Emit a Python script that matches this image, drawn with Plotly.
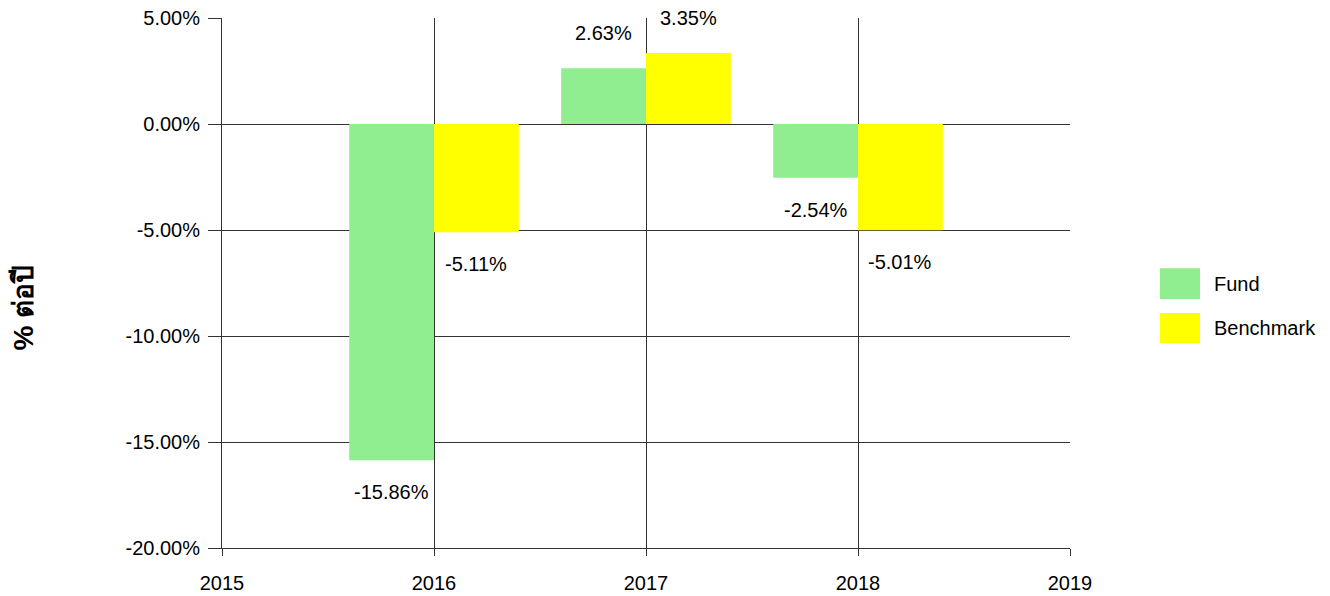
import plotly.graph_objects as go

years = [2016, 2017, 2018]
fund = [-15.86, 2.63, -2.54]
benchmark = [-5.11, 3.35, -5.01]
series_names = ["Fund", "Benchmark"]
colors = ["#90EE90", "#FFFF00"]
y_ticks = [5, 0, -5, -10, -15, -20]
x_ticks = [2015, 2016, 2017, 2018, 2019]
y_title = "% ต่อปี"

FONT = "Liberation Sans, Arial, sans-serif"
FS = 20

fig = go.Figure()
fig.add_trace(go.Bar(x=years, y=fund, name=series_names[0], marker_color=colors[0],
                     marker_line_width=0, width=0.4, offset=-0.4, showlegend=False))
fig.add_trace(go.Bar(x=years, y=benchmark, name=series_names[1], marker_color=colors[1],
                     marker_line_width=0, width=0.4, offset=0, showlegend=False))

annotations = []
for vals, off in ((fund, -0.2), (benchmark, 0.2)):
    for x, v in zip(years, vals):
        annotations.append(dict(x=x + off, y=v, xref="x", yref="y", text=f"{v:.2f}%",
                                showarrow=False, yanchor="middle",
                                yshift=35 if v > 0 else -32,
                                font=dict(family=FONT, size=FS, color="#000")))

# Y title
annotations.append(dict(x=-0.2339, y=0.453, xref="paper", yref="paper", text=f"<b>{y_title}</b>",
                        textangle=-90, showarrow=False, xanchor="center", yanchor="middle",
                        font=dict(family=FONT, size=28, color="#000")))

# Custom legend
shapes = []
leg_y = [(0.528, 0.4698), (0.4434, 0.3868)]
for name, col, (y1, y0) in zip(series_names, colors, leg_y):
    shapes.append(dict(type="rect", xref="paper", yref="paper", x0=1.106, x1=1.1533,
                       y0=y0, y1=y1, fillcolor=col, line_width=0))
    annotations.append(dict(x=1.1675, y=(y0 + y1) / 2, xref="paper", yref="paper", text=name,
                            showarrow=False, xanchor="left", yanchor="middle",
                            font=dict(family=FONT, size=FS, color="#000")))

fig.update_layout(
    width=1322, height=588,
    margin=dict(l=214, r=260, t=10, b=48, pad=0),
    paper_bgcolor="white", plot_bgcolor="white",
    barmode="overlay",
    showlegend=False,
    annotations=annotations,
    shapes=shapes,
    font=dict(family=FONT, size=FS, color="#000"),
)
fig.update_xaxes(range=[2015, 2019], tickvals=x_ticks, ticktext=[str(t) for t in x_ticks],
                 showgrid=True, gridcolor="#333", gridwidth=1,
                 showline=True, linecolor="#333", linewidth=1,
                 ticks="outside", ticklen=7, tickcolor="#333",
                 ticklabelstandoff=10, zeroline=False, automargin=False,
                 ticklabeloverflow="allow")
fig.update_yaxes(range=[-20, 5], tickvals=y_ticks, ticktext=[f"{t:.2f}%" for t in y_ticks],
                 showgrid=True, gridcolor="#333", gridwidth=1,
                 showline=True, linecolor="#333", linewidth=1,
                 ticks="outside", ticklen=13, tickcolor="#333",
                 ticklabelstandoff=4, zeroline=False, automargin=False,
                 ticklabeloverflow="allow")

fig.write_html("out.html")
